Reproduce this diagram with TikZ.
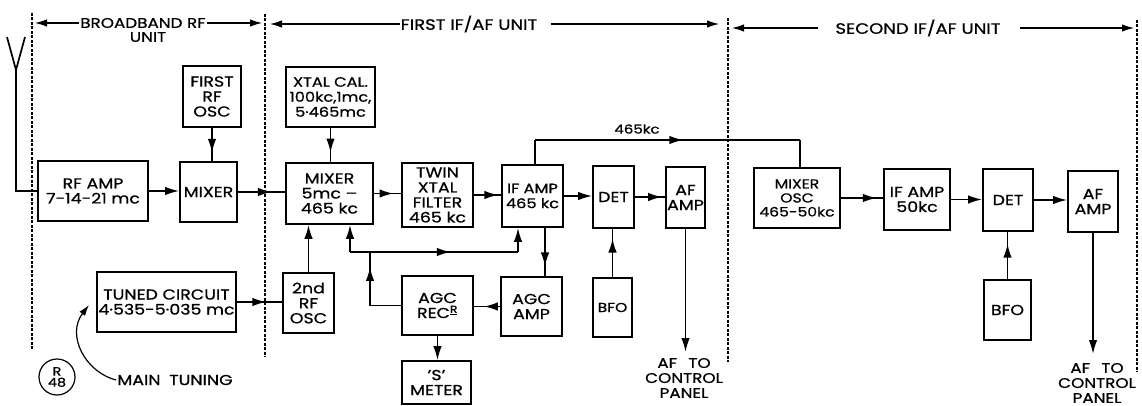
\documentclass[tikz,border=0pt]{standalone}
\usepackage{fontspec}
\setmainfont{Poppins}[FakeStretch=1.2, FakeBold=0.8]
\usetikzlibrary{arrows.meta,decorations.markings}
\begin{document}
\begin{tikzpicture}[x=1pt,y=-1pt,
  blk/.style={draw, line width=1.7pt, align=center, inner sep=0pt, font=\fontsize{14.5}{15}\selectfont},
  ln/.style={line width=1.7pt},
  tip/.style={-{Latex[length=14pt,width=8.5pt]}},
  marr/.style={postaction={decorate},decoration={markings,mark=at position #1 with {\arrow{Latex[length=14pt,width=8.5pt]}}}},
  unitline/.style={dash pattern=on 3pt off 1.5pt, line width=1.1pt},
  hd/.style={line width=1.2pt,-{Latex[length=12pt,width=7.5pt]}},
  lbl/.style={font=\fontsize{14}{15}\selectfont, inner sep=1pt, align=center}
]
\useasboundingbox (0,0) rectangle (1142,406);

% unit boundaries
\draw[unitline] (32,13) -- (32,350);
\draw[unitline] (265,14) -- (265,357);
\draw[unitline] (728,18) -- (728,362);
\draw[unitline] (1137,20) -- (1137,372);

% headers
\node[lbl] (h1) at (143,23) {BROADBAND RF};
\node[lbl] (h1b) at (148,37) {UNIT};
\coordinate (h1l) at (35,23);
\coordinate (h1r) at (262,23);
\draw[hd] (h1.west) -- (h1l);
\draw[hd] (h1.east) -- (h1r);
\node[lbl, font=\fontsize{15}{16}\selectfont] (h2) at (469,24) {FIRST IF/AF UNIT};
\coordinate (h2l) at (270,24);
\coordinate (h2r) at (719,24);
\draw[hd] (h2.west) -- (h2l);
\draw[hd] ([xshift=12pt]h2.east) -- (h2r);
\node[lbl, font=\fontsize{15}{16}\selectfont] (h3) at (918,28) {SECOND IF/AF UNIT};
\coordinate (h3l) at (732,28);
\coordinate (h3r) at (1134,28);
\draw[hd] ([xshift=-16pt]h3.west) -- (h3l);
\draw[hd] ([xshift=18pt]h3.east) -- (h3r);

% blocks
\node[blk, minimum width=110pt, minimum height=60pt] (rfamp) at (93,191) {RF AMP\\7-14-21 mc};
\node[blk, minimum width=57pt, minimum height=60pt] (mix1) at (208.5,192) {MIXER};
\node[blk, minimum width=58pt, minimum height=61pt] (rfosc) at (212,96.5) {FIRST\\RF\\OSC};
\node[blk, minimum width=89pt, minimum height=60pt, font=\fontsize{13.5}{15}\selectfont] (xtal) at (330.5,97) {XTAL CAL.\\100kc,1mc,\\5·465mc};
\node[blk, minimum width=87pt, minimum height=61pt] (mix2) at (329.5,193.5) {MIXER\\5mc –\\465 kc};
\node[blk, minimum width=71pt, minimum height=64pt] (twin) at (437.5,195) {TWIN\\XTAL\\FILTER\\465 kc};
\node[blk, minimum width=61pt, minimum height=62pt, font=\fontsize{13.5}{15}\selectfont] (ifamp) at (532.5,196) {IF AMP\\465 kc};
\node[blk, minimum width=41pt, minimum height=62pt] (det) at (613.5,197) {DET};
\node[blk, minimum width=39pt, minimum height=61pt] (afamp) at (685.5,197.5) {AF\\AMP};
\node[blk, minimum width=86pt, minimum height=60pt, font=\fontsize{13}{14}\selectfont] (mixosc) at (797,198) {MIXER\\OSC\\465-50kc};
\node[blk, minimum width=66pt, minimum height=61pt] (ifamp2) at (917,199.5) {IF AMP\\50kc};
\node[blk, minimum width=50pt, minimum height=62pt] (det2) at (1008,200) {DET};
\node[blk, minimum width=50pt, minimum height=61pt] (afamp2) at (1093,201.5) {AF\\AMP};
\node[blk, minimum width=139pt, minimum height=60pt] (tuned) at (166.5,302) {TUNED CIRCUIT\\4·535-5·035 mc};
\node[blk, minimum width=51pt, minimum height=60pt] (osc2) at (308.5,303) {2nd\\RF\\OSC};
\node[blk, minimum width=71pt, minimum height=59pt] (agcrec) at (437.5,305.5) {AGC\\REC\textsuperscript{\underline{R}}};
\node[blk, minimum width=61pt, minimum height=59pt] (agcamp) at (531.5,306.5) {AGC\\AMP};
\node[blk, minimum width=69pt, minimum height=43pt] (smeter) at (436.5,382.5) {'S'\\METER};
\node[blk, minimum width=39pt, minimum height=59pt, font=\fontsize{13}{14}\selectfont] (bfo1) at (612.5,307.5) {BFO};
\node[blk, minimum width=47pt, minimum height=60pt] (bfo2) at (1007.5,310) {BFO};

% antenna
\coordinate (ant) at (16,70);
\coordinate (antl) at (7,37);
\coordinate (antr) at (25,37);
\draw[ln] (antl) -- (ant) -- (antr);
\draw[ln] (ant) |- (rfamp.west);

% signal path
\draw[ln, tip] (rfamp.east) -- (rfamp.east -| mix1.west);
\draw[ln, marr=0.75] (rfosc.south) -- (rfosc.south |- mix1.north);
\draw[ln, marr=0.72] (mix1.east) -- (mix1.east -| mix2.west);
\draw[ln, marr=0.72] (xtal.south) -- (xtal.south |- mix2.north);
\draw[ln, marr=0.72] (mix2.east) -- (mix2.east -| twin.west);
\draw[ln, marr=0.9] (twin.east) -- (twin.east -| ifamp.west);
\draw[ln, tip] (ifamp.east) -- (ifamp.east -| det.west);
\draw[ln, marr=0.9] (det.east) -- (det.east -| afamp.west);

% 465 kc link
\coordinate (k1) at (535,140);
\coordinate (k2) at (800,140);
\draw[ln] (ifamp.north -| k1) -- (k1);
\draw[ln, marr=0.56] (k1) -- (k2);
\draw[ln] (k2) -- (k2 |- mixosc.north);
\node[lbl, font=\fontsize{12.5}{14}\selectfont] (k465) at (637,129) {465kc};

% second unit
\draw[ln, marr=0.85] (mixosc.east) -- (mixosc.east -| ifamp2.west);
\draw[ln, tip] (ifamp2.east) -- (ifamp2.east -| det2.west);
\draw[ln, tip] (det2.east) -- (det2.east -| afamp2.west);
\draw[ln, marr=0.75] (bfo2.north) -- (bfo2.north |- det2.south);
\coordinate (o2) at (1093,354);
\draw[ln, tip] (afamp2.south) -- (o2);
\node[lbl] (ctl2) at (1097,383) {AF\hspace{0.8em}TO\\CONTROL\\PANEL};

% first unit lower
\draw[ln, marr=0.8] (bfo1.north) -- (bfo1.north |- det.south);
\coordinate (o1) at (685.5,352);
\draw[ln, tip] (afamp.south) -- (o1);
\node[lbl] (ctl1) at (684,378) {AF\hspace{0.8em}TO\\CONTROL\\PANEL};

\draw[ln, marr=0.65] (tuned.east) -- (tuned.east -| osc2.west);
\draw[ln, tip] (osc2.north) -- (osc2.north |- mix2.south);

% AGC bus
\coordinate (b1) at (350,252);
\coordinate (b2) at (518,252);
\coordinate (bj) at (370,252);
\coordinate (ia) at (545,252);
\draw[ln, tip] (b1) -- (b1 |- mix2.south);
\draw[ln, tip] (b2) -- (b2 |- ifamp.south);
\draw[ln, marr=0.6] (b1) -- (b2);
\draw[ln] (agcrec.west) -- (agcrec.west -| bj);
\draw[ln, marr=0.72] (agcrec.west -| bj) -- (bj);
\draw[ln, marr=0.8] (ifamp.south -| ia) -- (ia |- agcamp.north);
\draw[ln, marr=0.62] (agcamp.west) -- (agcamp.west -| agcrec.east);
\draw[ln, tip] (agcrec.south) -- (agcrec.south |- smeter.north);

% main tuning
\node[lbl, font=\fontsize{14.5}{15}\selectfont] (mt) at (175,380) {MAIN\hspace{0.6em}TUNING};
\coordinate (mtt) at (89,305);
\draw[line width=1.2pt, -{Latex[length=11pt,width=7pt]}] (mt.west) .. controls (85,372) and (66,335) .. (mtt);
\node[draw, circle, line width=1.2pt, minimum size=36pt, inner sep=0pt, align=center, font=\fontsize{12}{11}\selectfont] (r48) at (57,377) {R\\48};
\end{tikzpicture}
\end{document}
